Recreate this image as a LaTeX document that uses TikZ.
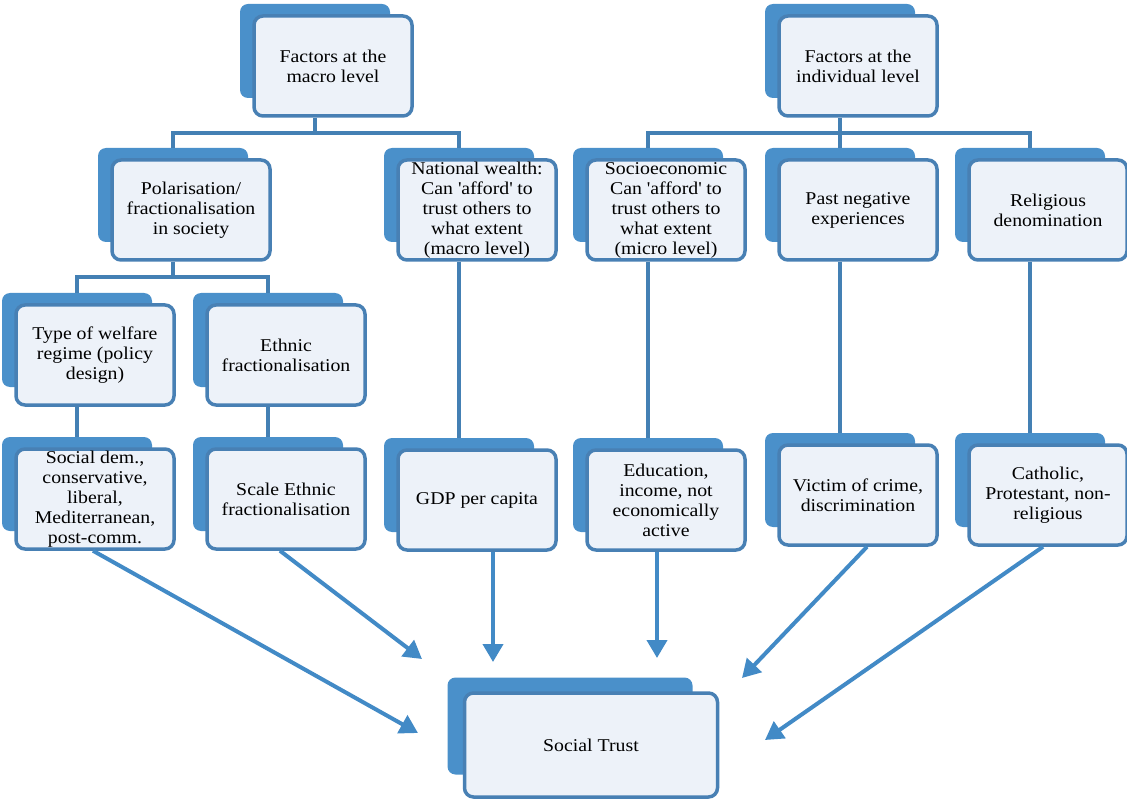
\documentclass[tikz,border=0pt]{standalone}
\usepackage{fontspec}
\setmainfont{Liberation Serif}[FakeStretch=1.1]
\usetikzlibrary{arrows.meta, calc}
\definecolor{TabBlue}  {RGB}{74, 144, 202}
\definecolor{EdgeBlue} {RGB}{72, 128, 180}
\definecolor{CardFill} {RGB}{237,242, 249}
\definecolor{LinkBlue} {RGB}{68, 128, 180}
\definecolor{ArrowBlue}{RGB}{66, 138, 198}

\begin{document}
\begin{tikzpicture}[x=1pt, y=-1pt,
  tab/.style  = {fill=TabBlue, rounded corners=8pt, inner sep=0pt,
                 minimum width=150pt, minimum height=94pt},
  card/.style = {draw=EdgeBlue, fill=CardFill, line width=3.5pt,
                 rounded corners=9pt, inner sep=0pt, align=center,
                 minimum width=158pt, minimum height=100pt,
                 font=\fontsize{18}{20}\selectfont},
  link/.style = {draw=LinkBlue, line width=4pt},
  flow/.style = {draw=ArrowBlue, line width=4pt,
                 -{Triangle[length=18pt, width=20pt]}}
]
  \useasboundingbox (0,0) rectangle (1127,802);

  %% top level
  \node[tab] (macT) at (315,51) {};
  \node[card] (mac) at ($(macT)+(18,15)$) {Factors at the\\macro level};
  \node[tab] (indT) at (840,51) {};
  \node[card] (ind) at ($(indT)+(18,15)$) {Factors at the\\individual level};

  %% second level
  \node[tab] (polT) at (173,195) {};
  \node[card] (pol) at ($(polT)+(18,15)$)
    {Polarisation/\\fractionalisation\\in society};
  \node[tab] (weaT) at (459,195) {};
  \node[card] (wea) at ($(weaT)+(18,15)$)
    {National wealth:\\Can \textquotesingle afford\textquotesingle{} to\\trust others to\\what extent\\(macro level)};
  \node[tab] (socT) at (648,195) {};
  \node[card] (soc) at ($(socT)+(18,15)$)
    {Socioeconomic\\Can \textquotesingle afford\textquotesingle{} to\\trust others to\\what extent\\(micro level)};
  \node[tab] (pasT) at (840,195) {};
  \node[card] (pas) at ($(pasT)+(18,15)$) {Past negative\\experiences};
  \node[tab] (relT) at (1030,195) {};
  \node[card] (rel) at ($(relT)+(18,15)$) {Religious\\denomination};

  %% third level
  \node[tab] (welT) at (77,340) {};
  \node[card] (wel) at ($(welT)+(18,15)$)
    {Type of welfare\\regime (policy\\design)};
  \node[tab] (ethT) at (268,340) {};
  \node[card] (eth) at ($(ethT)+(18,15)$) {Ethnic\\fractionalisation};

  %% measures
  \node[tab] (regT) at (77,484) {};
  \node[card] (reg) at ($(regT)+(18,15)$)
    {Social dem.,\\conservative,\\liberal,\\Mediterranean,\\post-comm.};
  \node[tab] (scaT) at (268,484) {};
  \node[card] (sca) at ($(scaT)+(18,15)$) {Scale Ethnic\\fractionalisation};
  \node[tab] (gdpT) at (459,485) {};
  \node[card] (gdp) at ($(gdpT)+(18,15)$) {GDP per capita};
  \node[tab] (eduT) at (648,485) {};
  \node[card] (edu) at ($(eduT)+(18,15)$)
    {Education,\\income, not\\economically\\active};
  \node[tab] (vicT) at (840,480) {};
  \node[card] (vic) at ($(vicT)+(18,15)$) {Victim of crime,\\discrimination};
  \node[tab] (catT) at (1030,480) {};
  \node[card] (cat) at ($(catT)+(18,15)$)
    {Catholic,\\Protestant, non-\\religious};

  %% outcome
  \node[tab, minimum width=245pt, minimum height=97pt] (trustT) at (570,726) {};
  \node[card, minimum width=253pt, minimum height=104pt]
    (trust) at ($(trustT)+(21,19)$) {Social Trust};

  %% tree lines
  \draw[link] (macT |- mac.south) -- ++(0,15) coordinate (macJ);
  \draw[link] (polT.north) |- (macJ) -| (weaT.north);
  \draw[link] (indT |- ind.south) -- ++(0,15) coordinate (indJ);
  \draw[link] (socT.north) |- (indJ) -| (relT.north);
  \draw[link] (indJ) -- (pasT.north);
  \draw[link] (polT |- pol.south) -- ++(0,15) coordinate (polJ);
  \draw[link] (welT.north) |- (polJ) -| (ethT.north);
  \draw[link] (welT |- wel.south) -- (regT.north);
  \draw[link] (ethT |- eth.south) -- (scaT.north);
  \draw[link] (weaT |- wea.south) -- (gdpT.north);
  \draw[link] (socT |- soc.south) -- (eduT.north);
  \draw[link] (pasT |- pas.south) -- (vicT.north);
  \draw[link] (relT |- rel.south) -- (catT.north);

  %% arrows into Social Trust
  \coordinate (inA) at (418,733);
  \coordinate (inB) at (422,659);
  \coordinate (inC) at (493,662);
  \coordinate (inD) at (657,658);
  \coordinate (inE) at (742,678);
  \coordinate (inF) at (765,740);
  \draw[flow] ([xshift=-2pt]reg.south) -- (inA);
  \draw[flow] ([xshift=-6pt]sca.south) -- (inB);
  \draw[flow] (gdp.south -| inC) -- (inC);
  \draw[flow] (edu.south -| inD) -- (inD);
  \draw[flow] ([xshift=9pt]vic.south) -- (inE);
  \draw[flow] ([xshift=-5pt]cat.south) -- (inF);
\end{tikzpicture}
\end{document}
